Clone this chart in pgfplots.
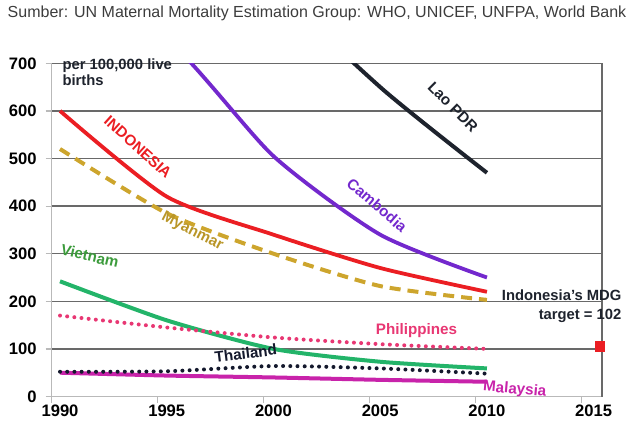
\documentclass[border=0pt]{standalone}
\usepackage{fontspec}
\setmainfont{Liberation Sans}
\usepackage{pgfplots}
\pgfplotsset{compat=1.18}

\definecolor{gridgray}{RGB}{105,105,105}
\definecolor{axgray}{RGB}{185,185,185}
\definecolor{indred}{RGB}{235,30,35}
\definecolor{cambo}{RGB}{115,40,205}
\definecolor{laoc}{RGB}{30,35,45}
\definecolor{myan}{RGB}{205,165,45}
\definecolor{myantxt}{RGB}{185,150,40}
\definecolor{viet}{RGB}{35,180,105}
\definecolor{viettxt}{RGB}{60,155,60}
\definecolor{phil}{RGB}{232,55,115}
\definecolor{thai}{RGB}{20,25,45}
\definecolor{malay}{RGB}{200,35,170}

\newcommand{\lbl}{\bfseries\fontsize{7.6}{8}\selectfont}

\begin{document}
\begin{tikzpicture}
\path[use as bounding box] (0,0) rectangle (316pt,212pt);
\begin{axis}[
    at={(25.85pt,13.75pt)}, anchor=south west,
    scale only axis, width=275.15pt, height=166.6pt,
    xmin=1989.61, xmax=2015.39,
    ymin=0, ymax=700,
    clip mode=individual,
    axis x line*=bottom, axis y line*=left,
    axis line style={draw=axgray, line width=0.6pt},
    ytick={100,200,...,700},
    extra y ticks={0},
    extra y tick style={grid=none},
    ymajorgrids,
    grid style={gridgray, line width=0.7pt},
    xtick={1989.61,1994.58,1999.54,2004.51,2009.47,2014.44},
    xticklabels={},
    extra x ticks={1990,1995,2000,2005,2010,2015},
    extra x tick labels={1990,1995,2000,2005,2010,2015},
    extra x tick style={major tick length=0pt},
    tick align=outside,
    major tick length=3pt,
    tick style={axgray, line width=0.6pt},
    /pgf/number format/assume math mode=true,
    ticklabel style={font=\bfseries\fontsize{8.3}{9}\selectfont, text=black},
    yticklabel style={xshift=-1pt},
    xticklabel style={yshift=-0.5pt},
]
\draw[gridgray, line width=0.6pt] (rel axis cs:1,0) -- (rel axis cs:1,1);

% Lao PDR
\addplot[smooth, tension=0.4, color=laoc, line width=2pt]
    coordinates {(1990,1600)(1995,1200)(2000,870)(2005,650)(2010,470)};
% Cambodia
\addplot[smooth, tension=0.4, color=cambo, line width=1.9pt]
    coordinates {(1990,830)(1995,750)(2000,505)(2005,340)(2010,250)};
% Indonesia
\addplot[smooth, tension=0.4, color=indred, line width=1.9pt]
    coordinates {(1990,600)(1995,420)(2000,340)(2005,270)(2010,220)};
% Myanmar
\addplot[smooth, tension=0.4, color=myan, line width=2pt, dash pattern=on 5.5pt off 3.5pt]
    coordinates {(1990,520)(1995,385)(2000,300)(2005,232)(2010,203)};
% Vietnam
\addplot[smooth, tension=0.4, color=viet, line width=2pt]
    coordinates {(1990,242)(1995,160)(2000,100)(2005,73)(2010,59)};
% Philippines
\addplot[smooth, tension=0.4, color=phil, line width=2pt, line cap=round, dash pattern=on 0pt off 3.6pt]
    coordinates {(1990,170)(1995,145)(2000,124)(2005,110)(2010,100)};
% Malaysia
\addplot[smooth, tension=0.4, color=malay, line width=2pt]
    coordinates {(1990,50)(1995,44)(2000,40)(2005,35)(2010,31)};
% Thailand
\addplot[smooth, tension=0.4, color=thai, line width=2pt, line cap=round, dash pattern=on 0pt off 3.6pt]
    coordinates {(1990,52)(1995,53)(2000,64)(2005,59)(2010,48)};
% Indonesia MDG target
\addplot[only marks, mark=square*, mark size=2.4pt, color=indred]
    coordinates {(2015.3,105)};

\node[rotate=-42, text=indred, font=\lbl] at (axis cs:1993.65,524) {INDONESIA};
\node[rotate=-41, text=cambo, font=\lbl] at (axis cs:2004.85,402) {Cambodia};
\node[rotate=-45, text=laoc, font=\lbl] at (axis cs:2008.4,608) {Lao PDR};
\node[rotate=-27, text=myantxt, font=\lbl] at (axis cs:1996.2,346) {Myanmar};
\node[rotate=-13, text=viettxt, font=\lbl] at (axis cs:1991.4,295) {Vietnam};
\node[rotate=7, text=thai, font=\lbl] at (axis cs:1998.7,91) {Thailand};
\node[text=phil, font=\lbl] at (axis cs:2006.7,138) {Philippines};
\node[rotate=-5, text=malay, font=\lbl] at (axis cs:2011.3,14) {Malaysia};
\node[anchor=east, align=right, inner sep=0pt, text=laoc,
      font=\bfseries\fontsize{7.4}{9.5}\selectfont] at (axis cs:2016.32,190)
      {Indonesia's MDG\\target = 102};
\node[anchor=north west, align=left, inner sep=0pt, text=laoc,
      font=\bfseries\fontsize{7.4}{8}\selectfont] at (axis cs:1990.1,711)
      {per 100,000 live\\births};
\end{axis}
\node[text={rgb,255:red,60;green,60;blue,60}, font=\fontsize{8}{9}\selectfont]
    at (158.5pt,205.5pt) {Sumber: UN Maternal Mortality Estimation Group: WHO, UNICEF, UNFPA, World Bank};
\end{tikzpicture}
\end{document}
